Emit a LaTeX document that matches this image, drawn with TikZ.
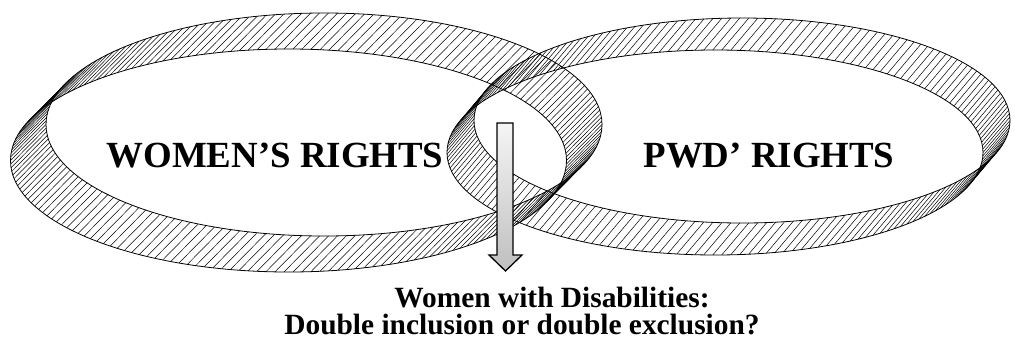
\documentclass[tikz,border=0pt]{standalone}
\usepackage{fontspec}
\setmainfont{Liberation Serif}
\begin{document}
\begin{tikzpicture}[x=1bp,y=-1bp,
  ringedge/.style={line width=0.8bp,black},
  ruling/.style={line width=0.5bp,black},
  ringlabel/.style={font=\bfseries\fontsize{37}{37}\selectfont,inner sep=0pt,anchor=base},
  caption/.style={font=\bfseries\fontsize{29.5}{27}\selectfont,inner sep=0pt,align=center,anchor=north},
  blockarrow/.style={line width=1.3bp,draw=black,top color=gray!8,bottom color=gray!50}]
\useasboundingbox (0,0) rectangle (1015,351);
% left ring: upper edge ellipse centre, lower edge = upper + (-35.5,36)
\coordinate (LA) at (324,124.5);
\coordinate (LB) at (288.5,160.5);
\foreach \i in {0,...,193}{
  \pgfmathsetmacro{\t}{1.8556701*\i}
  \draw[ruling] ({324+278*cos(\t)},{124.5+111.5*sin(\t)}) -- ++(-35.5,36);
}
\draw[ringedge] (LA) ellipse [x radius=278, y radius=111.5];
\draw[ringedge] (LB) ellipse [x radius=278, y radius=111.5];
% right ring
\coordinate (RA) at (742,120.5);
\coordinate (RB) at (715,152.5);
\foreach \i in {0,...,186}{
  \pgfmathsetmacro{\t}{1.9251337*\i}
  \draw[ruling] ({742+268*cos(\t)},{120.5+102.5*sin(\t)}) -- ++(-27,32);
}
\draw[ringedge] (RA) ellipse [x radius=268, y radius=102.5];
\draw[ringedge] (RB) ellipse [x radius=268, y radius=102.5];
% labels
\node[ringlabel] (women) at (275,167) {WOMEN’S RIGHTS};
\node[ringlabel] (pwd) at (769,167) {PWD’ RIGHTS};
% arrow
\draw[blockarrow] (497,123) -- (513,123) -- (513,255) -- (522,255) -- (505.5,271)
  -- (489,255) -- (497,255) -- cycle;
\coordinate (tip) at (505.5,271);
\node[caption] (wwd) at (522,287) {\hspace*{60bp}Women with Disabilities:\\Double inclusion or double exclusion?};
\end{tikzpicture}
\end{document}
